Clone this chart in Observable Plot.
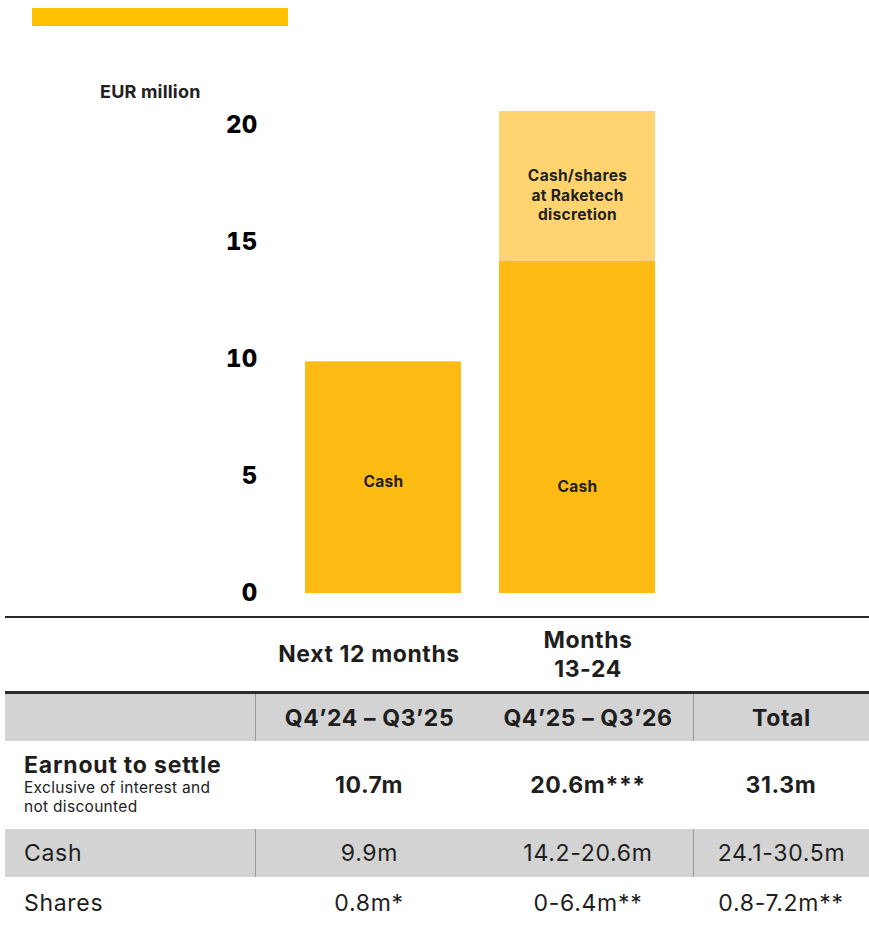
<!DOCTYPE html>
<html>
<head>
<meta charset="utf-8">
<script src="https://cdn.jsdelivr.net/npm/d3@7"></script>
<script src="https://cdn.jsdelivr.net/npm/@observablehq/plot@0.6"></script>
<style>
  body { margin: 0; background: #fff; font-family: Inter, "Noto Sans", sans-serif; color: #1e1e1e; }
  #wrap { position: relative; width: 869px; height: 928px; overflow: hidden; }
  .abs { position: absolute; }
  #deco { left: 32px; top: 8px; width: 256px; height: 18px; background: #FFC000; }
  #unit { left: 100px; top: 81px; font-size: 18px; font-weight: 700; color: #222; letter-spacing: 0.2px; }
  #chart { left: 0; top: 0; }
  .hline { left: 5px; width: 864px; background: #2a2a2a; }
  .cell { display: flex; align-items: center; justify-content: center; text-align: center; box-sizing: border-box; }
  .gray { background: #D3D3D3; }
  .sep { border-left: 1px solid #9a9a9a; }
  .b { font-weight: 700; letter-spacing: 0.6px; }
  .h22 { font-size: 23px; }
  .r22 { font-size: 23px; font-weight: 400; letter-spacing: 0.7px; }
  svg text { letter-spacing: 0.3px; }
</style>
</head>
<body>
<div id="wrap">
  <div id="deco" class="abs"></div>
  <div id="chart" class="abs"></div>
  <div id="unit" class="abs">EUR million</div>
  <div id="table"></div>
</div>
<script>
// ---- Data ----
const periods = ["Next 12 months", "Months 13-24"];
const cashValues = [9.9, 14.2];
const discretionValues = [0, 6.4];
const segmentNames = ["Cash", "Cash/shares at Raketech discretion"];
const yTicks = [0, 5, 10, 15, 20];
const barLabels = ["Cash", "Cash", "Cash/shares\nat Raketech\ndiscretion"];
const barLabelPeriods = ["Next 12 months", "Months 13-24", "Months 13-24"];
const barLabelValues = [4.8, 4.6, 17.05];

const colHeaders = ["", "Q4\u201924 \u2013 Q3\u201925", "Q4\u201925 \u2013 Q3\u201926", "Total"];
const topHeaders = ["", "Next 12 months", "Months\n13-24", ""];
const earnoutValues = ["10.7m", "20.6m***", "31.3m"];
const cashRow = ["9.9m", "14.2-20.6m", "24.1-30.5m"];
const sharesRow = ["0.8m*", "0-6.4m**", "0.8-7.2m**"];

// ---- Build bar table ----
const bars = [];
periods.forEach((p, i) => {
  bars.push({period: p, segment: segmentNames[0], value: cashValues[i]});
  bars.push({period: p, segment: segmentNames[1], value: discretionValues[i]});
});
const labels = barLabels.map((t, i) => ({text: t, period: barLabelPeriods[i], y: barLabelValues[i]}));

const chart = Plot.plot({
  width: 869,
  height: 615,
  marginLeft: 305,
  marginRight: 214,
  marginTop: 125,
  marginBottom: 22,
  style: {fontFamily: "Inter, 'Noto Sans', sans-serif", background: "transparent"},
  x: {domain: periods, paddingInner: 0.196, paddingOuter: 0, round: false, axis: null},
  y: {domain: [0, 20], ticks: yTicks},
  color: {domain: segmentNames, range: ["#FDBB13", "#FFD470"]},
  marks: [
    Plot.barY(bars, {x: "period", y: "value", fill: "segment", order: segmentNames, inset: 0}),
    Plot.axisY({ticks: yTicks, tickSize: 0, tickPadding: 48, fontSize: 24, fontWeight: 800, fill: "#000", label: null}),
    Plot.text(labels, {x: "period", y: "y", text: "text", fontSize: 15.5, fontWeight: 700, fill: "#222", lineHeight: 1.24})
  ]
});
document.getElementById("chart").appendChild(chart);

// ---- Table (HTML) ----
const wrap = document.getElementById("wrap");
const cols = [[5, 250], [255, 228], [483, 210], [693, 176]];
function div(cls, style, html) {
  const d = document.createElement("div");
  d.className = "abs " + cls;
  Object.assign(d.style, style);
  d.innerHTML = html;
  wrap.appendChild(d);
  return d;
}
div("hline", {top: "616px", height: "2px"}, "");
// top headers
topHeaders.forEach((t, i) => {
  if (!t) return;
  div("cell b h22", {left: cols[i][0] + "px", width: cols[i][1] + "px", top: "618px", height: "73px", lineHeight: "29px"}, t.replace("\n", "<br>"));
});
div("hline", {top: "691px", height: "3px"}, "");
// header row
div("gray", {left: "5px", width: "864px", top: "694px", height: "47px"}, "");
colHeaders.forEach((t, i) => {
  div("cell b h22" + (i === 1 || i === 3 ? " sep" : ""), {left: cols[i][0] + "px", width: cols[i][1] + "px", top: "694px", height: "47px"}, t);
});
// earnout row
div("", {left: "24px", top: "752px", width: "240px"},
  '<div style="font-size:23px;font-weight:700;line-height:26px;letter-spacing:0.8px">Earnout to settle</div>' +
  '<div style="font-size:15.5px;line-height:19px;color:#222;letter-spacing:0.3px">Exclusive of interest and<br>not discounted</div>');
earnoutValues.forEach((t, i) => {
  div("cell b h22", {left: cols[i + 1][0] + "px", width: cols[i + 1][1] + "px", top: "741px", height: "88px"}, t);
});
// cash row
div("gray", {left: "5px", width: "864px", top: "829px", height: "48px"}, "");
div("cell r22", {left: "24px", top: "829px", height: "48px", justifyContent: "flex-start"}, "Cash");
cashRow.forEach((t, i) => {
  div("cell r22" + (i === 0 || i === 2 ? " sep" : ""), {left: cols[i + 1][0] + "px", width: cols[i + 1][1] + "px", top: "829px", height: "48px"}, t);
});
// shares row
div("cell r22", {left: "24px", top: "877px", height: "51px", justifyContent: "flex-start"}, "Shares");
sharesRow.forEach((t, i) => {
  div("cell r22", {left: cols[i + 1][0] + "px", width: cols[i + 1][1] + "px", top: "877px", height: "51px"}, t);
});
</script>
</body>
</html>
